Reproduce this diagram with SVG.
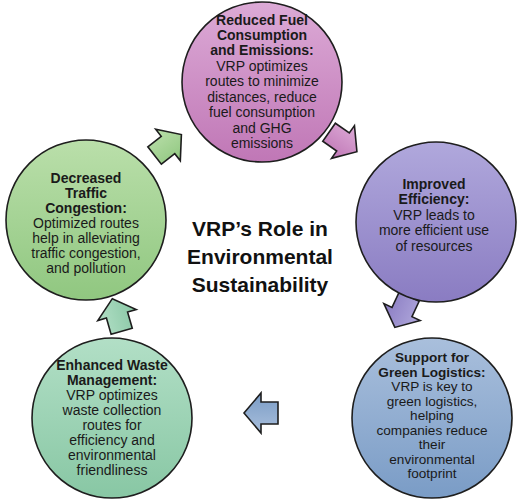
<svg xmlns="http://www.w3.org/2000/svg" width="520" height="503" viewBox="0 0 520 503">
<defs>
<linearGradient id="gPink" x1="0" y1="0" x2="0" y2="1"><stop offset="0" stop-color="#dcaad6"/><stop offset="1" stop-color="#c077b6"/></linearGradient>
<linearGradient id="gPurple" x1="0" y1="0" x2="0" y2="1"><stop offset="0" stop-color="#b0a8dc"/><stop offset="1" stop-color="#8a7cc2"/></linearGradient>
<linearGradient id="gBlue" x1="0" y1="0" x2="0" y2="1"><stop offset="0" stop-color="#a9bfdc"/><stop offset="1" stop-color="#7a9cc6"/></linearGradient>
<linearGradient id="gMint" x1="0" y1="0" x2="0" y2="1"><stop offset="0" stop-color="#b2dfc6"/><stop offset="1" stop-color="#88c7a4"/></linearGradient>
<linearGradient id="gGreen" x1="0" y1="0" x2="0" y2="1"><stop offset="0" stop-color="#badfaa"/><stop offset="1" stop-color="#90c780"/></linearGradient>
<path id="arr" d="M-17,-11 L0,-11 L0,-20 L17,0 L0,20 L0,11 L-17,11 Z"/>
</defs>
<style>
.c{stroke:#1e1e1e;stroke-width:1.6}
.a{stroke:#1e1e1e;stroke-width:1.6;stroke-linejoin:miter}
text{font-family:"Liberation Sans",Arial,sans-serif;font-size:14px;fill:#1a1a1a;text-anchor:middle}
.b{font-weight:bold}
.s{font-size:13.6px}
.t{font-size:21px;font-weight:bold;fill:#111}
</style>
<rect width="520" height="503" fill="#ffffff"/>
<g id="connectors">
<use href="#arr" class="a" fill="url(#gGreen)" transform="translate(168,145) rotate(-38)"/>
<use href="#arr" class="a" fill="url(#gPink)" transform="translate(343,142) rotate(35)"/>
<use href="#arr" class="a" fill="url(#gPurple)" transform="translate(402,312) rotate(115)"/>
<use href="#arr" class="a" fill="url(#gBlue)" transform="translate(261,413) rotate(180)"/>
<use href="#arr" class="a" fill="url(#gMint)" transform="translate(117,315) rotate(-106)"/>
</g>
<g id="node-fuel">
<circle class="c" cx="262" cy="82" r="80" fill="url(#gPink)"/>
<text x="262" y="25" class="b">Reduced Fuel</text>
<text x="262" y="40" class="b">Consumption</text>
<text x="262" y="55" class="b">and Emissions:</text>
<text x="262" y="71">VRP optimizes</text>
<text x="262" y="86">routes to minimize</text>
<text x="262" y="102">distances, reduce</text>
<text x="262" y="117">fuel consumption</text>
<text x="262" y="133">and GHG</text>
<text x="262" y="148">emissions</text>
</g>
<g id="node-efficiency">
<circle class="c" cx="436" cy="222" r="80" fill="url(#gPurple)"/>
<text x="434" y="189" class="b">Improved</text>
<text x="434" y="204" class="b">Efficiency:</text>
<text x="434" y="220">VRP leads to</text>
<text x="434" y="235">more efficient use</text>
<text x="434" y="251">of resources</text>
</g>
<g id="node-green">
<circle class="c" cx="432" cy="418" r="80" fill="url(#gBlue)"/>
<text x="432" y="362" class="b s">Support for</text>
<text x="432" y="376.5" class="b s">Green Logistics:</text>
<text x="432" y="391" class="s">VRP is key to</text>
<text x="432" y="405.5" class="s">green logistics,</text>
<text x="432" y="420" class="s">helping</text>
<text x="432" y="434.5" class="s">companies reduce</text>
<text x="432" y="449" class="s">their</text>
<text x="432" y="463.5" class="s">environmental</text>
<text x="432" y="478" class="s">footprint</text>
</g>
<g id="node-waste">
<circle class="c" cx="112" cy="418" r="80" fill="url(#gMint)"/>
<text x="112" y="370" class="b">Enhanced Waste</text>
<text x="112" y="385" class="b">Management:</text>
<text x="112" y="400">VRP optimizes</text>
<text x="112" y="415">waste collection</text>
<text x="112" y="430">routes for</text>
<text x="112" y="445">efficiency and</text>
<text x="112" y="460">environmental</text>
<text x="112" y="475">friendliness</text>
</g>
<g id="node-traffic">
<circle class="c" cx="86" cy="220" r="80" fill="url(#gGreen)"/>
<text x="86" y="183" class="b">Decreased</text>
<text x="86" y="198" class="b">Traffic</text>
<text x="86" y="213" class="b">Congestion:</text>
<text x="86" y="228">Optimized routes</text>
<text x="86" y="243">help in alleviating</text>
<text x="86" y="258">traffic congestion,</text>
<text x="86" y="273">and pollution</text>
</g>
<g id="title">
<text x="260" y="236" class="t">VRP’s Role in</text>
<text x="260" y="264" class="t">Environmental</text>
<text x="260" y="292" class="t">Sustainability</text>
</g>
</svg>
